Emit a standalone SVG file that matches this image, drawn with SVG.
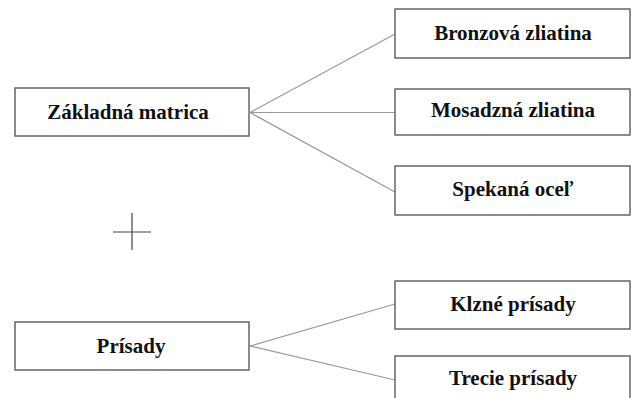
<svg xmlns="http://www.w3.org/2000/svg" width="631" height="398" viewBox="0 0 631 398">
<style>
.box{fill:#fff;stroke:#666;stroke-width:1.5}
.lbl{font-family:"Liberation Serif","Times New Roman",serif;font-weight:bold;font-size:21px;fill:#111;text-anchor:middle}
.con{stroke:#999;stroke-width:1.2;fill:none}
</style>
<rect width="631" height="398" fill="#fff"/>
<g id="connectors">
<line class="con" x1="250" y1="112.5" x2="395" y2="34"/>
<line class="con" x1="250" y1="112.5" x2="395" y2="112.5"/>
<line class="con" x1="250" y1="112.5" x2="395" y2="192"/>
<line class="con" x1="250" y1="346" x2="395" y2="304"/>
<line class="con" x1="250" y1="346" x2="395" y2="380"/>
</g>
<g id="zakladna">
<rect class="box" x="15" y="88" width="234" height="48"/>
<text class="lbl" x="128" y="119">Základná matrica</text>
</g>
<g id="bronzova">
<rect class="box" x="395" y="9" width="235" height="49"/>
<text class="lbl" x="513" y="40">Bronzová zliatina</text>
</g>
<g id="mosadzna">
<rect class="box" x="395" y="89" width="235" height="46"/>
<text class="lbl" x="513" y="117">Mosadzná zliatina</text>
</g>
<g id="spekana">
<rect class="box" x="395" y="166" width="235" height="49"/>
<text class="lbl" x="513" y="196">Spekaná oceľ</text>
</g>
<g id="plus">
<line x1="132" y1="213" x2="132" y2="250" stroke="#444" stroke-width="1.2"/>
<line x1="113" y1="232" x2="151" y2="232" stroke="#444" stroke-width="1.2"/>
</g>
<g id="prisady">
<rect class="box" x="15" y="322" width="234" height="48"/>
<text class="lbl" x="131" y="353">Prísady</text>
</g>
<g id="klzne">
<rect class="box" x="395" y="281" width="235" height="48"/>
<text class="lbl" x="513" y="311">Klzné prísady</text>
</g>
<g id="trecie">
<rect class="box" x="395" y="356" width="235" height="48"/>
<text class="lbl" x="513" y="385">Trecie prísady</text>
</g>
</svg>
